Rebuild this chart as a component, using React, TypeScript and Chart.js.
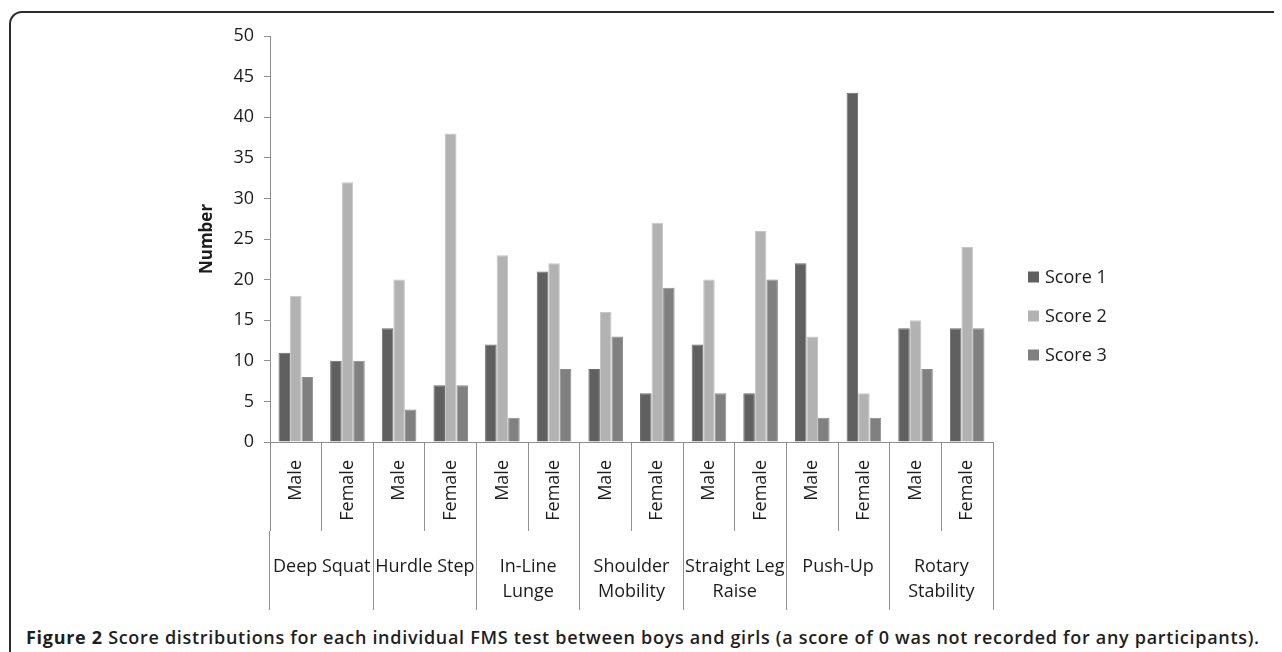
import React, { useEffect, useRef } from "react";
import { Chart, registerables } from "chart.js";

Chart.register(...registerables);

const subCategories = [
  "Male", "Female", "Male", "Female", "Male", "Female", "Male",
  "Female", "Male", "Female", "Male", "Female", "Male", "Female",
];
const testGroups = [
  "Deep Squat",
  "Hurdle Step",
  ["In-Line", "Lunge"],
  ["Shoulder", "Mobility"],
  ["Straight Leg", "Raise"],
  "Push-Up",
  ["Rotary", "Stability"],
];
const seriesNames = ["Score 1", "Score 2", "Score 3"];
const score1 = [11, 10, 14, 7, 12, 21, 9, 6, 12, 6, 22, 43, 14, 14];
const score2 = [18, 32, 20, 38, 23, 22, 16, 27, 20, 26, 13, 6, 15, 24];
const score3 = [8, 10, 4, 7, 3, 9, 13, 19, 6, 20, 3, 3, 9, 14];
const yMin = 0;
const yMax = 50;
const yStep = 5;

const fillColors = ["#606060", "#b2b2b2", "#808080"];
const edgeColors = ["#6c6c6c", "#c6c6c6", "#8c8c8c"];
const FONT = "'Open Sans', 'DejaVu Sans', sans-serif";
const TEXT = "#1c1c1c";
const AXIS = "#8e8e8e";

const legendPlugin = {
  id: "sideLegend",
  afterDraw(chart: any) {
    const ctx = chart.ctx;
    const area = chart.chartArea;
    const x = area.right + 35;
    const y0 = 269;
    const gap = 39;
    ctx.save();
    ctx.font = `18px ${FONT}`;
    ctx.textBaseline = "middle";
    ctx.textAlign = "left";
    chart.data.datasets.forEach((ds: any, i: number) => {
      const cy = y0 + i * gap;
      ctx.fillStyle = ds.backgroundColor;
      ctx.fillRect(x, cy - 5.5, 11, 11);
      ctx.fillStyle = TEXT;
      ctx.fillText(ds.label, x + 17, cy + 1);
    });
    ctx.restore();
  },
};

export default function App() {
  const ref = useRef<HTMLCanvasElement | null>(null);

  useEffect(() => {
    const prevOverflow = document.body.style.overflow;
    document.body.style.overflow = "hidden";
    if (!ref.current) return;
    const seriesValues = [score1, score2, score3];
    const chart = new Chart(ref.current, {
      type: "bar",
      data: {
        labels: subCategories,
        datasets: seriesNames.map((name, i) => ({
          label: name,
          data: seriesValues[i],
          backgroundColor: fillColors[i],
          borderColor: edgeColors[i],
          borderWidth: 1,
          categoryPercentage: 0.67,
          barPercentage: 1.0,
        })),
      },
      options: {
        responsive: false,
        animation: false,
        devicePixelRatio: 1,
        layout: { padding: { left: 185, right: 281, top: 28, bottom: 13 } },
        plugins: {
          legend: { display: false },
          tooltip: { enabled: false },
        },
        font: { family: FONT, size: 18 },
        scales: {
          y: {
            min: yMin,
            max: yMax,
            ticks: { stepSize: yStep, color: TEXT, font: { family: FONT, size: 18 }, padding: 10 },
            grid: { drawOnChartArea: false, tickLength: 6, color: AXIS },
            border: { display: true, color: AXIS },
            title: {
              display: true,
              text: "Number",
              color: TEXT,
              font: { family: FONT, size: 17, weight: "bold" },
              padding: { top: 4, bottom: 0 },
            },
            afterFit(scale: any) {
              scale.width = 77;
            },
          },
          x: {
            type: "category",
            offset: true,
            weight: 0,
            grid: { offset: true, drawOnChartArea: false, tickLength: 89, color: AXIS },
            border: { display: true, color: AXIS },
            ticks: {
              color: TEXT,
              font: { family: FONT, size: 18 },
              minRotation: 90,
              maxRotation: 90,
              padding: -71,
              autoSkip: false,
            },
            afterFit(scale: any) {
              scale.height = 89;
            },
          },
          x2: {
            type: "category",
            position: "bottom",
            labels: testGroups as any,
            offset: true,
            weight: 1,
            grid: { offset: true, drawOnChartArea: false, tickLength: 79, color: AXIS },
            border: { display: false },
            ticks: {
              color: TEXT,
              font: { family: FONT, size: 18, lineHeight: 1.4 },
              maxRotation: 0,
              minRotation: 0,
              padding: -56,
              autoSkip: false,
            },
            afterFit(scale: any) {
              scale.height = 79;
            },
          },
        },
      } as any,
      plugins: [legendPlugin],
    });
    return () => {
      chart.destroy();
      document.body.style.overflow = prevOverflow;
    };
  }, []);

  return (
    <div style={{ position: "relative", width: 1266, height: 644, overflow: "hidden", background: "#fff" }}>
      <div
        style={{
          position: "absolute",
          left: 1,
          top: 3,
          width: 1400,
          height: 800,
          borderTop: "2px solid #2a2a2a",
          borderLeft: "2px solid #2a2a2a",
          borderTopLeftRadius: 13,
          boxSizing: "border-box",
        }}
      />
      <canvas
        ref={ref}
        width={1266}
        height={615}
        style={{ position: "absolute", left: 0, top: 0, width: 1266, height: 615 }}
      />
      <div
        style={{
          position: "absolute",
          left: 18,
          top: 617,
          whiteSpace: "nowrap",
          fontFamily: FONT,
          fontSize: 18,
          letterSpacing: "0.7px",
          lineHeight: "24px",
          color: "#1e1e1e",
          fontWeight: 600,
        }}
      >
        <span style={{ fontWeight: 700 }}>Figure 2</span> Score distributions for each individual FMS test between boys and girls (a score of 0 was not recorded for any participants).
      </div>
    </div>
  );
}
